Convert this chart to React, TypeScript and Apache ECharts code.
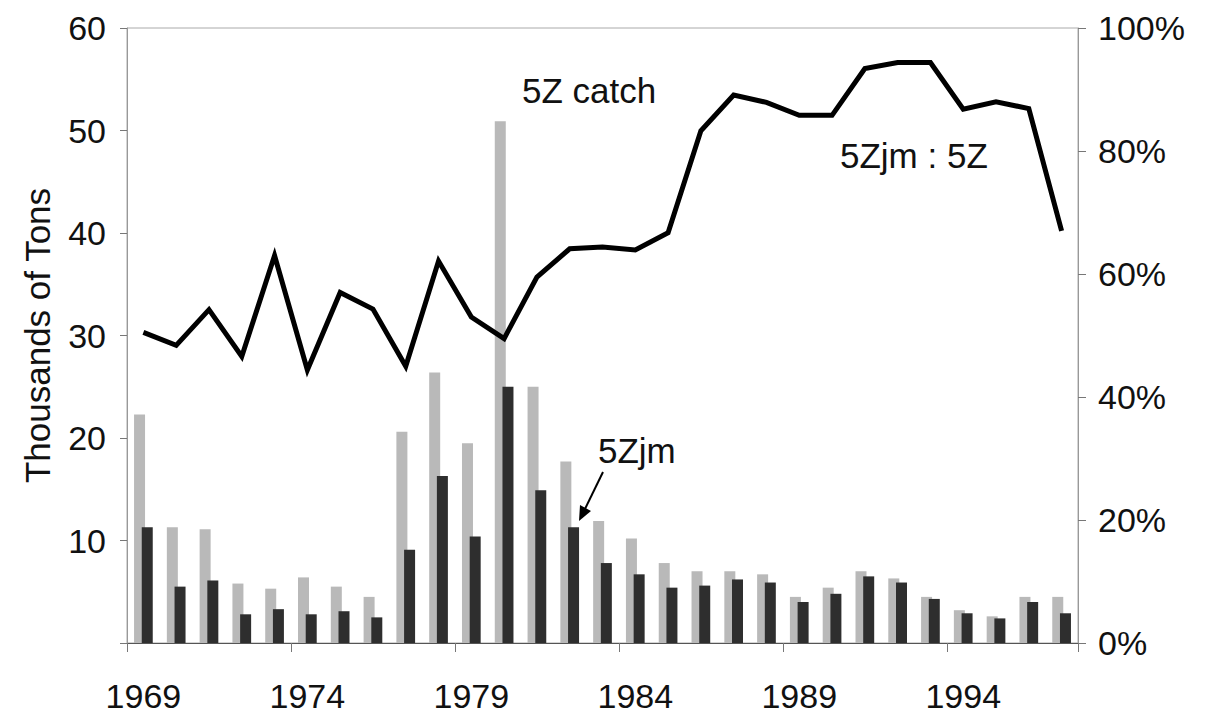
import React, { useEffect, useRef } from "react";
import * as echarts from "echarts";

const years = ["1969","1970","1971","1972","1973","1974","1975","1976","1977","1978","1979","1980","1981","1982","1983","1984","1985","1986","1987","1988","1989","1990","1991","1992","1993","1994","1995","1996","1997"];
const catch5Z = [22.3, 11.3, 11.1, 5.8, 5.3, 6.4, 5.5, 4.5, 20.6, 26.4, 19.5, 50.9, 25.0, 17.7, 11.9, 10.2, 7.8, 7.0, 7.0, 6.7, 4.5, 5.4, 7.0, 6.3, 4.5, 3.2, 2.6, 4.5, 4.5];
const catch5Zjm = [11.3, 5.5, 6.1, 2.8, 3.3, 2.8, 3.1, 2.5, 9.1, 16.3, 10.4, 25.0, 14.9, 11.3, 7.8, 6.7, 5.4, 5.6, 6.2, 5.9, 4.0, 4.8, 6.5, 5.9, 4.3, 2.9, 2.4, 4.0, 2.9];
const ratioPct = [50.5, 48.4, 54.2, 46.6, 63.0, 44.4, 57.0, 54.3, 45.0, 62.1, 53.0, 49.5, 59.5, 64.1, 64.4, 63.9, 66.7, 83.3, 89.1, 87.9, 85.8, 85.8, 93.4, 94.4, 94.4, 86.8, 88.0, 86.9, 67.0];

const FONT = "'Liberation Sans', Arial, Helvetica, sans-serif";
const TXT = "#111";

export default function App() {
  const ref = useRef<HTMLDivElement>(null);
  useEffect(() => {
    if (!ref.current) return;
    const chart = echarts.init(ref.current, null, { renderer: "svg" });
    chart.setOption({
      animation: false,
      backgroundColor: "#fff",
      textStyle: { fontFamily: FONT },
      grid: { left: 127, right: 127, top: 28, bottom: 71, show: true, borderColor: "#aaa", borderWidth: 1 },
      xAxis: {
        type: "category",
        data: years,
        boundaryGap: true,
        axisLine: { lineStyle: { color: "#555", width: 1 } },
        axisTick: { show: true, interval: 4, alignWithLabel: false, length: 9, lineStyle: { color: "#777" } },
        axisLabel: { interval: 4, color: TXT, fontSize: 34, fontFamily: FONT, margin: 36 },
      },
      yAxis: [
        {
          type: "value",
          min: 0,
          max: 60,
          interval: 10,
          name: "Thousands of Tons",
          nameLocation: "middle",
          nameRotate: 90,
          nameGap: 72,
          nameTextStyle: { color: TXT, fontSize: 35, fontFamily: FONT },
          axisLine: { show: true, lineStyle: { color: "#999", width: 1 } },
          axisTick: { show: true, length: 7, lineStyle: { color: "#777" } },
          splitLine: { show: false },
          axisLabel: { color: TXT, fontSize: 34, fontFamily: FONT, margin: 21, formatter: (v: number) => (v === 0 ? "" : String(v)) },
        },
        {
          type: "value",
          min: 0,
          max: 100,
          interval: 20,
          position: "right",
          axisLine: { show: true, lineStyle: { color: "#999", width: 1 } },
          axisTick: { show: true, length: 8, lineStyle: { color: "#777" } },
          splitLine: { show: false },
          axisLabel: { color: TXT, fontSize: 34, fontFamily: FONT, margin: 20, formatter: "{value}%" },
        },
      ],
      series: [
        {
          name: "5Z catch",
          type: "bar",
          data: catch5Z,
          barWidth: 11,
          barGap: "-30%",
          itemStyle: { color: "#b9b9b9" },
        },
        {
          name: "5Zjm",
          type: "bar",
          data: catch5Zjm,
          barWidth: 11,
          itemStyle: { color: "#2e2e2e" },
        },
        {
          name: "5Zjm : 5Z",
          type: "line",
          yAxisIndex: 1,
          data: ratioPct,
          showSymbol: false,
          symbol: "none",
          lineStyle: { color: "#000", width: 5, join: "miter" },
          z: 5,
        },
      ],
      graphic: [
        { type: "text", x: 522, y: 90, style: { text: "5Z catch", fill: TXT, font: `35px ${FONT}`, textVerticalAlign: "middle" } },
        { type: "text", x: 840, y: 155, style: { text: "5Zjm : 5Z", fill: TXT, font: `35px ${FONT}`, textVerticalAlign: "middle" } },
        { type: "text", x: 598, y: 450, style: { text: "5Zjm", fill: TXT, font: `35px ${FONT}`, textVerticalAlign: "middle" } },
        { type: "line", shape: { x1: 603, y1: 472, x2: 584, y2: 511 }, style: { stroke: "#000", lineWidth: 2 } },
        { type: "polygon", shape: { points: [[579, 521], [591, 511], [580, 505]] }, style: { fill: "#000" } },
      ],
    });
    return () => chart.dispose();
  }, []);
  return <div ref={ref} style={{ position: "absolute", left: 0, top: 0, width: 1205, height: 714 }} />;
}
